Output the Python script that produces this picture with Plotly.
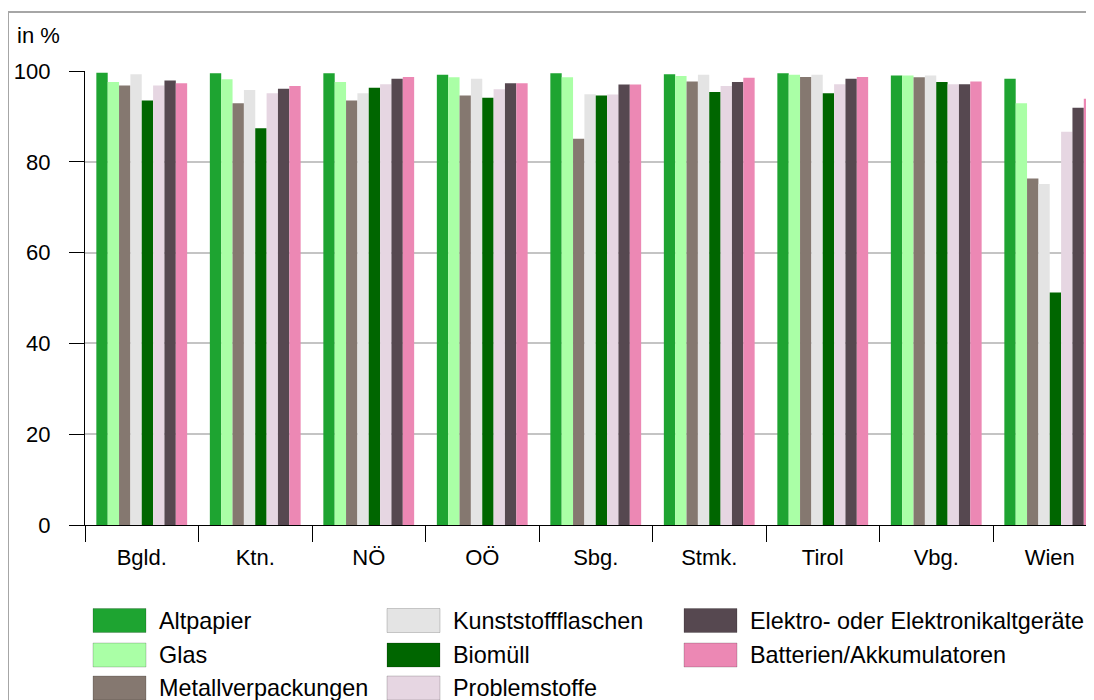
import plotly.graph_objects as go

categories = ["Bgld.", "Ktn.", "NÖ", "OÖ", "Sbg.", "Stmk.", "Tirol", "Vbg.", "Wien"]
series_names = ["Altpapier", "Glas", "Metallverpackungen", "Kunststoffflaschen",
                "Biomüll", "Problemstoffe", "Elektro- oder Elektronikaltgeräte",
                "Batterien/Akkumulatoren"]
altpapier = [99.6, 99.5, 99.5, 99.2, 99.5, 99.3, 99.5, 99.0, 98.3]
glas = [97.6, 98.2, 97.6, 98.6, 98.6, 98.9, 99.2, 99.0, 92.9]
metall = [96.8, 92.9, 93.5, 94.6, 85.1, 97.7, 98.7, 98.6, 76.3]
kunststoff = [99.3, 95.8, 95.1, 98.3, 94.9, 99.2, 99.2, 99.0, 75.1]
biomuell = [93.5, 87.4, 96.3, 94.1, 94.6, 95.4, 95.1, 97.6, 51.2]
problemstoffe = [96.8, 95.1, 97.1, 96.0, 94.8, 96.7, 97.1, 97.1, 86.6]
elektro = [97.9, 96.1, 98.3, 97.3, 97.0, 97.6, 98.3, 97.1, 91.9]
batterien = [97.3, 96.7, 98.7, 97.3, 97.0, 98.5, 98.7, 97.7, 93.9]
y_ticks = [0, 20, 40, 60, 80, 100]

series_values = [altpapier, glas, metall, kunststoff, biomuell, problemstoffe, elektro, batterien]
colors = ["#1ea431", "#aaffa6", "#857870", "#e4e4e4", "#006600", "#e6d6e2", "#564850", "#ec88b4"]

FONT = "Liberation Sans, Arial, sans-serif"
OFF = 8  # page body margin
W, H = 1094 - OFF, 700 - OFF
L, R, T, B = 85 - OFF, 0, 71 - OFF, 700 - 525


def px(x):
    return (x - OFF - L) / (W - L - R)


def py(y):
    return (H - B - (y - OFF)) / (H - T - B)


fig = go.Figure()
for name, vals, col in zip(series_names, series_values, colors):
    fig.add_trace(go.Bar(x=categories, y=vals, name=name, marker_color=col,
                         marker_line_width=0, showlegend=False))

shapes = []
annotations = []
# outer border
shapes.append(dict(type="rect", xref="paper", yref="paper",
                   x0=px(8), x1=px(1110), y0=py(12), y1=py(720),
                   line=dict(color="#a6a6a6", width=2), fillcolor="rgba(0,0,0,0)", layer="below"))

# custom legend (column-major, 3 rows)
col_x = [93, 387, 684]
row_y = [620.5, 655, 688]
for i, (name, col) in enumerate(zip(series_names, colors)):
    c, r = divmod(i, 3)
    sx, sy = col_x[c], row_y[r]
    shapes.append(dict(type="rect", xref="paper", yref="paper",
                       x0=px(sx), x1=px(sx + 53), y0=py(sy - 12), y1=py(sy + 12),
                       fillcolor=col, line=dict(color="rgba(0,0,0,0.18)", width=1)))
    annotations.append(dict(text=name, xref="paper", yref="paper", x=px(sx + 64), y=py(sy),
                            xanchor="left", yanchor="middle", showarrow=False,
                            font=dict(family=FONT, size=23.4, color="black")))

annotations.append(dict(text="in %", xref="paper", yref="paper", x=px(15), y=py(36),
                        xanchor="left", yanchor="middle", showarrow=False,
                        font=dict(family=FONT, size=22, color="black")))

fig.update_layout(
    width=W, height=H,
    margin=dict(l=L, r=R, t=T, b=B, pad=0),
    paper_bgcolor="white", plot_bgcolor="white",
    barmode="group", bargap=0.2, bargroupgap=0,
    font=dict(family=FONT, size=22, color="black"),
    shapes=shapes, annotations=annotations,
    xaxis=dict(range=[-0.5, -0.5 + (W - L - R) / 113.5], showline=True, linecolor="black",
               linewidth=1.3, ticks="outside", ticklen=16, tickwidth=1.3, tickcolor="black",
               tickson="boundaries", showgrid=False, ticklabelstandoff=12,
               tickfont=dict(family=FONT, size=22, color="black")),
    yaxis=dict(range=[0, 100], tickvals=y_ticks, showline=True, linecolor="black",
               linewidth=1.3, ticks="outside", ticklen=15, tickwidth=1.2, tickcolor="black",
               showgrid=True, gridcolor="#c4c4c4", gridwidth=1.5, zeroline=False,
               ticklabelstandoff=14,
               tickfont=dict(family=FONT, size=22, color="black")),
)

fig.write_html("out.html")
